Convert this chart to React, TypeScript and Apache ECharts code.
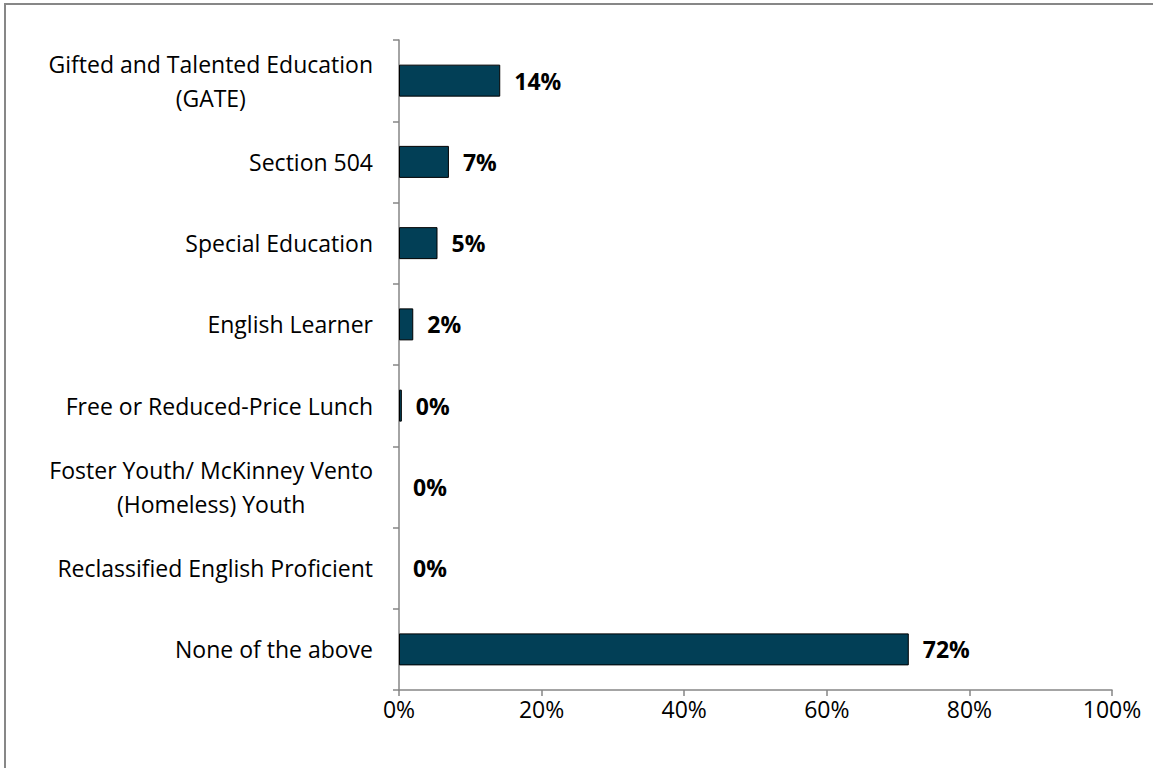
import React, { useEffect, useRef } from "react";
import * as echarts from "echarts";

const categories = [
  "Gifted and Talented Education\n(GATE)",
  "Section 504",
  "Special Education",
  "English Learner",
  "Free or Reduced-Price Lunch",
  "Foster Youth/ McKinney Vento\n(Homeless) Youth",
  "Reclassified English Proficient",
  "None of the above",
];
const values = [14.2, 7.0, 5.4, 2.0, 0.4, 0, 0, 71.5];
const xTicks = [0, 20, 40, 60, 80, 100];

export default function App() {
  const ref = useRef<HTMLDivElement>(null);
  useEffect(() => {
    document.body.style.margin = "0";
    const chart = echarts.init(ref.current!, null, { renderer: "svg" });
    const font = "'Open Sans', Lato, sans-serif";
    chart.setOption({
      animation: false,
      backgroundColor: "#ffffff",
      graphic: [
        {
          type: "rect",
          shape: { x: 5, y: 4, width: 1150, height: 800 },
          style: { fill: "none", stroke: "#878787", lineWidth: 2 },
          silent: true,
        },
      ],
      grid: { left: 399, right: 41, top: 40, bottom: 78, containLabel: false },
      xAxis: {
        type: "value",
        min: 0,
        max: 100,
        interval: 20,
        axisLine: { show: true, lineStyle: { color: "#868686", width: 1.5 } },
        axisTick: { show: true, length: 6, lineStyle: { color: "#868686", width: 1.5 } },
        splitLine: { show: false },
        axisLabel: {
          formatter: (v: number) => (xTicks.includes(v) ? v + "%" : ""),
          fontFamily: font,
          fontSize: 23,
          color: "#000",
          margin: 7,
        },
      },
      yAxis: {
        type: "category",
        data: categories,
        inverse: true,
        axisLine: { show: true, lineStyle: { color: "#868686", width: 1.5 } },
        axisTick: { show: true, length: 6, lineStyle: { color: "#868686", width: 1.5 } },
        axisLabel: {
          margin: 26,
          color: "#000",
          fontFamily: font,
          fontSize: 23,
          lineHeight: 34,
          formatter: (v: string) =>
            v
              .split("\n")
              .map((s) => "{c|" + s + "}")
              .join("\n"),
          rich: {
            c: {
              align: "center",
              fontFamily: font,
              fontSize: 23,
              lineHeight: 34,
              color: "#000",
            },
          },
        },
      },
      series: [
        {
          type: "bar",
          data: values.map((v) =>
            v === 0 ? { value: v, itemStyle: { borderWidth: 0 } } : v
          ),
          barWidth: 32,
          itemStyle: { color: "#023F56", borderColor: "#000", borderWidth: 1 },
          label: {
            show: true,
            position: "right",
            distance: 14,
            formatter: (p: any) => Math.round(p.value) + "%",
            fontFamily: font,
            fontSize: 23,
            fontWeight: "bold",
            color: "#000",
          },
        },
      ],
    });
    return () => chart.dispose();
  }, []);
  return <div ref={ref} style={{ width: 1153, height: 768 }} />;
}
